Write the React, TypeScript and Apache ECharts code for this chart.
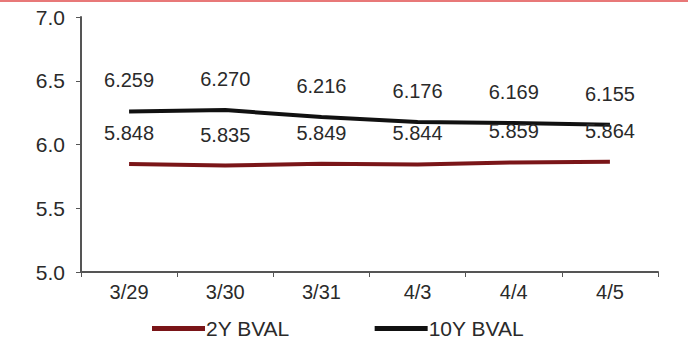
import React, { useEffect, useRef } from "react";
import * as echarts from "echarts";

const categories = ["3/29", "3/30", "3/31", "4/3", "4/4", "4/5"];
const y2 = [5.848, 5.835, 5.849, 5.844, 5.859, 5.864];
const y10 = [6.259, 6.27, 6.216, 6.176, 6.169, 6.155];
const yTicks = [5.0, 5.5, 6.0, 6.5, 7.0];

export default function App() {
  const ref = useRef<HTMLDivElement>(null);
  useEffect(() => {
    document.body.style.margin = "0";
    const chart = echarts.init(ref.current!, null, { renderer: "svg" });
    const font = "Liberation Sans";
    const label = {
      show: true,
      position: "top" as const,
      distance: 21,
      fontFamily: font,
      fontSize: 20,
      color: "#2a2a2a",
      formatter: (p: any) => p.value.toFixed(3),
    };
    chart.setOption({
      animation: false,
      backgroundColor: "#fff",
      graphic: [
        { type: "rect", shape: { x: 0, y: 0, width: 688, height: 2 }, style: { fill: "#e87878" } },
      ],
      grid: { left: 81, right: 30, top: 17, bottom: 78 },
      xAxis: {
        type: "category",
        data: categories,
        boundaryGap: true,
        axisLine: { lineStyle: { color: "#555", width: 2 } },
        axisTick: { show: true, length: 5, lineStyle: { color: "#555" } },
        axisLabel: { fontFamily: font, fontSize: 20, color: "#2a2a2a", margin: 10 },
      },
      yAxis: {
        type: "value",
        min: yTicks[0],
        max: yTicks[yTicks.length - 1],
        interval: 0.5,
        splitLine: { show: false },
        axisLine: { show: true, lineStyle: { color: "#555", width: 2 } },
        axisTick: { show: true, length: 5, lineStyle: { color: "#555" } },
        axisLabel: {
          fontFamily: font,
          fontSize: 21,
          color: "#2a2a2a",
          margin: 16,
          formatter: (v: number) => v.toFixed(1),
        },
      },
      legend: {
        bottom: 6,
        left: 147,
        itemWidth: 53,
        itemHeight: 5,
        itemGap: 85,
        icon: "rect",
        textStyle: { fontFamily: font, fontSize: 21, color: "#2a2a2a", padding: [0, 0, 0, -4] },
        data: ["2Y BVAL", "10Y BVAL"],
      },
      series: [
        {
          name: "2Y BVAL",
          type: "line",
          data: y2,
          symbol: "circle",
          symbolSize: 0,
          showSymbol: true,
          lineStyle: { color: "#7a1518", width: 4 },
          itemStyle: { color: "#7a1518" },
          label,
        },
        {
          name: "10Y BVAL",
          type: "line",
          data: y10,
          symbol: "circle",
          symbolSize: 0,
          showSymbol: true,
          lineStyle: { color: "#111", width: 4 },
          itemStyle: { color: "#111" },
          label,
        },
      ],
    });
    return () => chart.dispose();
  }, []);
  return <div ref={ref} style={{ width: 688, height: 350 }} />;
}
